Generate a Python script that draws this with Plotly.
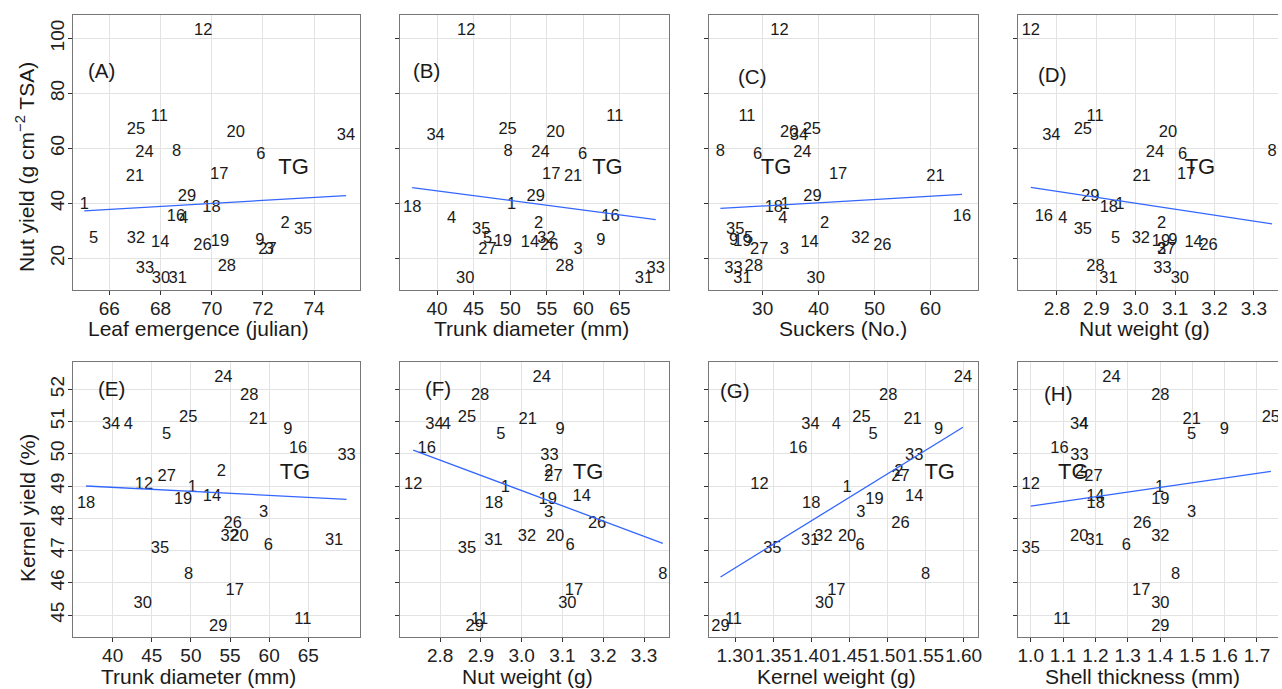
import numpy as np
import plotly.graph_objects as go

# ---------------- data (one value per genotype) ----------------
genotype = ["1", "2", "3", "4", "5", "6", "8", "9", "11", "12", "14", "16", "17", "18", "19",
            "20", "21", "24", "25", "26", "27", "28", "29", "30", "31", "32", "33", "34", "35"]
leaf_emergence = [65.02, 72.87, 72.25, 68.9, 65.38, 71.92, 68.63, 71.88, 67.95, 69.67, 67.99, 68.6, 70.29, 69.99, 70.32,
                  70.94, 67.0, 67.37, 67.04, 69.64, 72.18, 70.59, 69.03, 68.02, 68.67, 67.04, 67.39, 75.25, 73.57]
trunk_diameter = [50.2, 53.9, 59.3, 42.0, 46.9, 59.9, 49.7, 62.4, 64.3, 44.0, 52.7, 63.7, 55.6, 36.6, 49.0,
                  56.2, 58.6, 54.15, 49.65, 55.35, 46.9, 57.45, 53.5, 43.85, 68.3, 54.95, 69.9, 39.8, 46.05]
suckers = [34.0, 41.1, 33.9, 33.6, 27.5, 29.1, 22.45, 24.8, 27.2, 33.0, 38.4, 65.65, 43.5, 32.0, 26.4,
           34.75, 60.9, 37.1, 38.8, 51.4, 29.4, 28.4, 38.9, 39.5, 26.4, 47.5, 24.8, 36.5, 25.1]
nut_weight = [2.960, 3.066, 3.066, 2.815, 2.949, 3.119, 3.346, 3.094, 2.897, 2.734, 3.147, 2.767, 3.128, 2.932, 3.064,
              3.082, 3.015, 3.049, 2.866, 3.185, 3.078, 2.898, 2.885, 3.112, 2.931, 3.013, 3.068, 2.786, 2.866]
kernel_weight = [1.447, 1.515, 1.465, 1.433, 1.481, 1.464, 1.550, 1.567, 1.298, 1.332, 1.535, 1.383, 1.433, 1.400, 1.483,
                 1.447, 1.533, 1.599, 1.466, 1.517, 1.517, 1.501, 1.281, 1.417, 1.3985, 1.416, 1.535, 1.399, 1.349]
shell_thickness = [1.399, 1.151, 1.498, 1.164, 1.498, 1.296, 1.448, 1.599, 1.096, 1.000, 1.200, 1.089, 1.342, 1.201, 1.401,
                   1.150, 1.498, 1.250, 1.743, 1.345, 1.194, 1.401, 1.401, 1.401, 1.198, 1.401, 1.151, 1.150, 1.000]
nut_yield = [39.4, 32.5, 23.0, 34.4, 27.0, 57.8, 58.8, 26.4, 71.3, 102.8, 25.5, 35.0, 50.5, 38.2, 26.1,
             65.5, 49.8, 58.2, 66.7, 24.4, 23.0, 17.0, 42.4, 12.6, 12.6, 27.0, 16.0, 64.5, 30.3]
kernel_yield = [48.96, 49.45, 48.17, 50.89, 50.60, 47.14, 46.26, 50.74, 44.84, 49.05, 48.67, 50.17, 45.75, 48.44, 48.57,
                47.43, 51.05, 52.37, 51.13, 47.84, 49.29, 51.79, 44.64, 45.34, 47.31, 47.43, 49.95, 50.89, 47.04]

# reference cultivar TG
tg_label = "TG"
tg_leaf_emergence = 73.2
tg_trunk_diameter = 63.3
tg_suckers = 32.4
tg_nut_weight = 3.163
tg_kernel_weight = 1.5685
tg_shell_thickness = 1.132
tg_nut_yield = 52.7
tg_kernel_yield = 49.4

# fitted linear trend per panel (A..H)
fit_slope = [0.539, -0.349, 0.118, -21.7, -0.01246, -4.72, 14.6, 1.457]
fit_intercept = [2.254, 58.50, 35.50, 105.15, 49.46, 63.02, 27.48, 46.92]

panel_letters = ["(A)", "(B)", "(C)", "(D)", "(E)", "(F)", "(G)", "(H)"]
x_titles = ["Leaf emergence (julian)", "Trunk diameter (mm)", "Suckers (No.)", "Nut weight (g)",
            "Trunk diameter (mm)", "Nut weight (g)", "Kernel weight (g)", "Shell thickness (mm)"]
y_titles = ["Nut yield (g cm<sup>\u22122</sup> TSA)", "Kernel yield (%)"]

nut_yield_ticks = [20, 40, 60, 80, 100]
kernel_yield_ticks = [45, 46, 47, 48, 49, 50, 51, 52]
leaf_ticks = [66, 68, 70, 72, 74]
trunk_ticks = [40, 45, 50, 55, 60, 65]
suckers_ticks = [30, 40, 50, 60]
nut_weight_ticks = [2.8, 2.9, 3.0, 3.1, 3.2, 3.3]
kernel_weight_ticks = [1.30, 1.35, 1.40, 1.45, 1.50, 1.55, 1.60]
shell_ticks = [1.0, 1.1, 1.2, 1.3, 1.4, 1.5, 1.6, 1.7]

# ---------------- panel definitions ----------------
panels = [
    dict(x=leaf_emergence, y=nut_yield, tx=tg_leaf_emergence, ty=tg_nut_yield, xr=[64.57, 75.79], yr=[8.5, 108.5],
         xt=leaf_ticks, yt=nut_yield_ticks, fmt="d"),
    dict(x=trunk_diameter, y=nut_yield, tx=tg_trunk_diameter, ty=tg_nut_yield, xr=[34.9, 71.7], yr=[8.5, 108.5],
         xt=trunk_ticks, yt=nut_yield_ticks, fmt="d"),
    dict(x=suckers, y=nut_yield, tx=tg_suckers, ty=tg_nut_yield, xr=[20.37, 68.5], yr=[8.5, 108.5],
         xt=suckers_ticks, yt=nut_yield_ticks, fmt="d"),
    dict(x=nut_weight, y=nut_yield, tx=tg_nut_weight, ty=tg_nut_yield, xr=[2.701, 3.361], yr=[8.5, 108.5],
         xt=nut_weight_ticks, yt=nut_yield_ticks, fmt=".1f"),
    dict(x=trunk_diameter, y=kernel_yield, tx=tg_trunk_diameter, ty=tg_kernel_yield, xr=[34.9, 71.6], yr=[44.32, 52.85],
         xt=trunk_ticks, yt=kernel_yield_ticks, fmt="d"),
    dict(x=nut_weight, y=kernel_yield, tx=tg_nut_weight, ty=tg_kernel_yield, xr=[2.701, 3.361], yr=[44.32, 52.85],
         xt=nut_weight_ticks, yt=kernel_yield_ticks, fmt=".1f"),
    dict(x=kernel_weight, y=kernel_yield, tx=tg_kernel_weight, ty=tg_kernel_yield, xr=[1.2656, 1.6187], yr=[44.32, 52.85],
         xt=kernel_weight_ticks, yt=kernel_yield_ticks, fmt=".2f"),
    dict(x=shell_thickness, y=kernel_yield, tx=tg_shell_thickness, ty=tg_kernel_yield, xr=[0.96, 1.765], yr=[44.32, 52.85],
         xt=shell_ticks, yt=kernel_yield_ticks, fmt=".1f"),
]

# ---------------- layout geometry (pixels) ----------------
W, H = 1282, 689
col_px = [(73, 361), (401, 671), (711, 981), (1021, 1282)]
row_px = [(15, 290), (362, 637)]
letter_pos = [(0.100, 0.797), (0.101, 0.797), (0.159, 0.778), (0.130, 0.785),
              (0.134, 0.904), (0.141, 0.904), (0.096, 0.895), (0.156, 0.887)]
xtitle_px = [(199, 328), (533, 328), (846, 328), (1148, 328),
             (199, 676), (529, 676), (839, 676), (1146, 676)]
ytitle_px = [(25, 167), (27, 508)]

FONT = "Liberation Sans, Arial, sans-serif"
FRAME = "#777777"
GRID = "#e3e3e3"
LINE = "#3366FF"

fig = go.Figure()
layout = dict(width=W, height=H, margin=dict(l=0, r=0, t=0, b=0), showlegend=False,
              paper_bgcolor="white", plot_bgcolor="white", font=dict(family=FONT, color="#222"))
annotations = []

for i, p in enumerate(panels):
    r, c = divmod(i, 4)
    xa = "x" if i == 0 else f"x{i+1}"
    ya = "y" if i == 0 else f"y{i+1}"
    xkey = "xaxis" if i == 0 else f"xaxis{i+1}"
    ykey = "yaxis" if i == 0 else f"yaxis{i+1}"
    x0, x1 = col_px[c]
    y0, y1 = row_px[r]

    xs = np.array(p["x"], dtype=float)
    ys = np.array(p["y"], dtype=float)
    # genotype labels
    fig.add_trace(go.Scatter(x=xs, y=ys, text=genotype, mode="text", xaxis=xa, yaxis=ya,
                             textposition="middle center", cliponaxis=True,
                             textfont=dict(family=FONT, size=16.5, color="#1a1a1a"), hoverinfo="skip"))
    # TG label
    fig.add_trace(go.Scatter(x=[p["tx"]], y=[p["ty"]], text=[tg_label], mode="text", xaxis=xa, yaxis=ya,
                             textposition="middle center", cliponaxis=True,
                             textfont=dict(family=FONT, size=22, color="#1a1a1a"), hoverinfo="skip"))
    # linear trend over the genotype range
    xf = np.array([xs.min(), xs.max()])
    fig.add_trace(go.Scatter(x=xf, y=fit_slope[i] * xf + fit_intercept[i], mode="lines", xaxis=xa, yaxis=ya,
                             line=dict(color=LINE, width=1.3), hoverinfo="skip"))

    last_col = (c == 3)
    fmt = p["fmt"]
    if fmt == "d":
        xtext = [str(v) for v in p["xt"]]
    else:
        xtext = [format(v, fmt) for v in p["xt"]]
    layout[xkey] = dict(domain=[x0 / W, x1 / W], anchor=ya, range=p["xr"], tickvals=p["xt"], ticktext=xtext,
                        tickangle=0, ticklabelstandoff=-3,
                        showgrid=True, gridcolor=GRID, gridwidth=1, zeroline=False,
                        showline=True, mirror=True, linecolor=FRAME, linewidth=1.4,
                        ticks="outside", ticklen=4, tickwidth=1, tickcolor="#333",
                        tickfont=dict(family=FONT, size=19, color="#222"))
    layout[ykey] = dict(domain=[1 - y1 / H, 1 - y0 / H], anchor=xa, range=p["yr"], tickvals=p["yt"],
                        ticktext=[str(v) for v in p["yt"]],
                        showticklabels=(c == 0), tickangle=-90, ticklabelstandoff=-4,
                        showgrid=True, gridcolor=GRID, gridwidth=1, zeroline=False,
                        showline=True, mirror=(not last_col), linecolor=FRAME, linewidth=1.4,
                        ticks="outside", ticklen=4, tickwidth=1, tickcolor="#333",
                        tickfont=dict(family=FONT, size=19, color="#222"))

    # panel letter
    lx, ly = letter_pos[i]
    annotations.append(dict(text=panel_letters[i], xref=f"{xa} domain", yref=f"{ya} domain", x=lx, y=ly,
                            showarrow=False, xanchor="center", yanchor="middle",
                            font=dict(family=FONT, size=20.5, color="#1a1a1a")))
    # x-axis title
    tx, ty = xtitle_px[i]
    annotations.append(dict(text=x_titles[i], xref="paper", yref="paper", x=tx / W, y=1 - ty / H,
                            showarrow=False, xanchor="center", yanchor="middle",
                            font=dict(family=FONT, size=21, color="#1a1a1a")))

for k in range(2):
    tx, ty = ytitle_px[k]
    annotations.append(dict(text=y_titles[k], xref="paper", yref="paper", x=tx / W, y=1 - ty / H,
                            showarrow=False, xanchor="center", yanchor="middle", textangle=-90,
                            font=dict(family=FONT, size=21, color="#1a1a1a")))

layout["annotations"] = annotations
fig.update_layout(**layout)

fig.write_html("out.html", config={"displayModeBar": False},
               post_script="document.body.style.margin='0';document.body.style.overflow='hidden';")
